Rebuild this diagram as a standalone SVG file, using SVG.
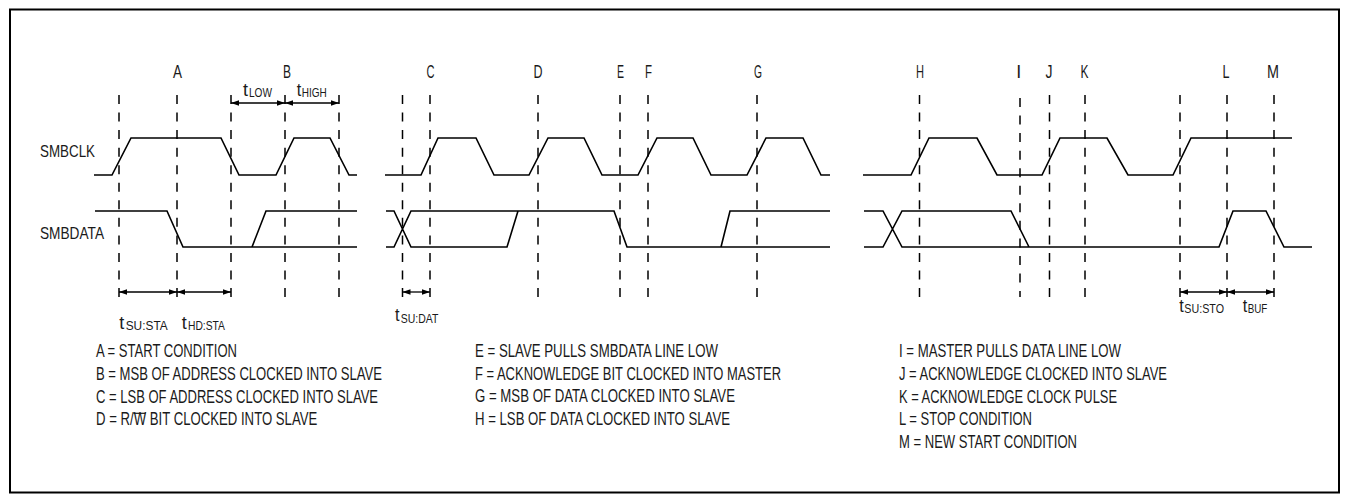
<svg xmlns="http://www.w3.org/2000/svg" width="1349" height="502" viewBox="0 0 1349 502">
<style>
.wave{fill:none;stroke:#000;stroke-width:1.6;stroke-linejoin:miter}
.dash{stroke:#000;stroke-width:1.5;stroke-dasharray:9 8.55;fill:none}
.dim{stroke:#000;stroke-width:1.3;fill:none;marker-start:url(#ah);marker-end:url(#ah)}
text{font-family:"Liberation Sans",Arial,sans-serif;fill:#1a1a1a}
.lbl{font-size:18px;text-anchor:middle}
.sig{font-size:17px}
.leg{font-size:17.5px}
.t{font-size:18px}
.sub{font-size:13px}
</style>
<defs>
<marker id="ah" viewBox="0 0 10 10" refX="10" refY="5" markerWidth="8" markerHeight="6" markerUnits="userSpaceOnUse" orient="auto-start-reverse" preserveAspectRatio="none">
<path d="M0,0.5 L10,5 L0,9.5 z" fill="#000"/>
</marker>
</defs>
<rect x="0" y="0" width="1349" height="502" fill="#fff"/>
<rect x="10" y="9.5" width="1329" height="483" fill="none" stroke="#000" stroke-width="2"/>

<g id="signal-labels">
<text class="sig" x="40" y="157" textLength="55" lengthAdjust="spacingAndGlyphs">SMBCLK</text>
<text class="sig" x="40" y="239" textLength="64" lengthAdjust="spacingAndGlyphs">SMBDATA</text>
</g>

<g id="markers-letters">
<text class="lbl" x="177.5" y="78" textLength="9" lengthAdjust="spacingAndGlyphs">A</text>
<text class="lbl" x="287" y="78" textLength="8" lengthAdjust="spacingAndGlyphs">B</text>
<text class="lbl" x="430.5" y="78" textLength="8" lengthAdjust="spacingAndGlyphs">C</text>
<text class="lbl" x="538" y="78" textLength="9" lengthAdjust="spacingAndGlyphs">D</text>
<text class="lbl" x="620.5" y="78" textLength="7" lengthAdjust="spacingAndGlyphs">E</text>
<text class="lbl" x="648.5" y="78" textLength="7" lengthAdjust="spacingAndGlyphs">F</text>
<text class="lbl" x="758" y="78" textLength="8" lengthAdjust="spacingAndGlyphs">G</text>
<text class="lbl" x="920" y="78" textLength="8" lengthAdjust="spacingAndGlyphs">H</text>
<text class="lbl" x="1018.7" y="78">I</text>
<text class="lbl" x="1049" y="78" textLength="7" lengthAdjust="spacingAndGlyphs">J</text>
<text class="lbl" x="1084.5" y="78" textLength="8" lengthAdjust="spacingAndGlyphs">K</text>
<text class="lbl" x="1226" y="78" textLength="7" lengthAdjust="spacingAndGlyphs">L</text>
<text class="lbl" x="1273" y="78" textLength="12" lengthAdjust="spacingAndGlyphs">M</text>
</g>

<g id="dashed-lines">
<line class="dash" x1="119" y1="95" x2="119" y2="297"/>
<line class="dash" x1="177" y1="95" x2="177" y2="297"/>
<line class="dash" x1="231" y1="95" x2="231" y2="297"/>
<line class="dash" x1="285" y1="95" x2="285" y2="297"/>
<line class="dash" x1="339" y1="95" x2="339" y2="297"/>
<line class="dash" x1="402.5" y1="95" x2="402.5" y2="297"/>
<line class="dash" x1="430" y1="95" x2="430" y2="297"/>
<line class="dash" x1="538" y1="95" x2="538" y2="297"/>
<line class="dash" x1="620" y1="95" x2="620" y2="297"/>
<line class="dash" x1="648" y1="95" x2="648" y2="297"/>
<line class="dash" x1="757" y1="95" x2="757" y2="297"/>
<line class="dash" x1="919.5" y1="95" x2="919.5" y2="297"/>
<line class="dash" x1="1020" y1="98" x2="1020" y2="297"/>
<line class="dash" x1="1049.5" y1="95" x2="1049.5" y2="297"/>
<line class="dash" x1="1085" y1="95" x2="1085" y2="297"/>
<line class="dash" x1="1180" y1="95" x2="1180" y2="297"/>
<line class="dash" x1="1227" y1="95" x2="1227" y2="297"/>
<line class="dash" x1="1274" y1="95" x2="1274" y2="297"/>
</g>

<g id="smbclk">
<path class="wave" d="M94,175 H112 L131,138 H221 L239,175 H276 L294,138 H330 L349,175 H357"/>
<path class="wave" d="M385,175 H421 L438,138 H476 L494,175 H529 L548,138 H584 L602,175 H638 L657,138 H693 L711,175 H747 L766,138 H803 L821,175 H830"/>
<path class="wave" d="M863,175 H911 L929,138 H977 L997,175 H1042 L1060,138 H1107 L1128,175 H1173 L1191,138 H1292"/>
</g>

<g id="smbdata">
<path class="wave" d="M95,211 H167 L183,247 H357 M252,247 L266,211 H357"/>
<path class="wave" d="M386,211 H394 L411,247 H507 L518,211 M386,247 H394 L411,211 H614 L627,247 H830 M721,247 L730,211 H830"/>
<path class="wave" d="M864,211 H883 L902,247 H1219 L1233,211 H1266 L1284,247 H1312 M864,247 H883 L902,211 H1011 L1029,247"/>
</g>

<g id="timing-arrows">
<line class="dim" x1="231" y1="103" x2="285" y2="103"/>
<line class="dim" x1="285" y1="103" x2="339" y2="103"/>
<line class="dim" x1="119" y1="292" x2="177" y2="292"/>
<line class="dim" x1="177" y1="292" x2="231" y2="292"/>
<line class="dim" x1="402.5" y1="292" x2="430" y2="292"/>
<line class="dim" x1="1180" y1="292" x2="1227" y2="292"/>
<line class="dim" x1="1227" y1="292" x2="1274" y2="292"/>
</g>

<g id="timing-labels">
<text class="t" x="243" y="95.5" textLength="5" lengthAdjust="spacingAndGlyphs">t</text>
<text class="sub" x="249" y="96.7" textLength="23" lengthAdjust="spacingAndGlyphs">LOW</text>
<text class="t" x="296.7" y="95.5" textLength="4.5" lengthAdjust="spacingAndGlyphs">t</text>
<text class="sub" x="301.7" y="96.7" textLength="25" lengthAdjust="spacingAndGlyphs">HIGH</text>

<text class="t" x="119.3" y="329" textLength="5" lengthAdjust="spacingAndGlyphs">t</text>
<text class="sub" x="125.7" y="330" textLength="42" lengthAdjust="spacingAndGlyphs">SU:STA</text>
<text class="t" x="181.7" y="329" textLength="5" lengthAdjust="spacingAndGlyphs">t</text>
<text class="sub" x="188" y="330" textLength="37" lengthAdjust="spacingAndGlyphs">HD:STA</text>

<text class="t" x="395" y="321" textLength="4.5" lengthAdjust="spacingAndGlyphs">t</text>
<text class="sub" x="400.7" y="323" textLength="37.6" lengthAdjust="spacingAndGlyphs">SU:DAT</text>

<text class="t" x="1179.3" y="312" textLength="4.5" lengthAdjust="spacingAndGlyphs">t</text>
<text class="sub" x="1184.3" y="313" textLength="39.7" lengthAdjust="spacingAndGlyphs">SU:STO</text>
<text class="t" x="1242.7" y="312" textLength="4.5" lengthAdjust="spacingAndGlyphs">t</text>
<text class="sub" x="1247.7" y="313" textLength="19.6" lengthAdjust="spacingAndGlyphs">BUF</text>
</g>

<g id="legend-1">
<text class="leg" x="96" y="357" textLength="141" lengthAdjust="spacingAndGlyphs">A = START CONDITION</text>
<text class="leg" x="96" y="380" textLength="286" lengthAdjust="spacingAndGlyphs">B = MSB OF ADDRESS CLOCKED INTO SLAVE</text>
<text class="leg" x="96" y="402.5" textLength="282" lengthAdjust="spacingAndGlyphs">C = LSB OF ADDRESS CLOCKED INTO SLAVE</text>
<text class="leg" x="96" y="425" textLength="221.3" lengthAdjust="spacingAndGlyphs">D = R/W BIT CLOCKED INTO SLAVE</text>
<line x1="133.4" y1="413.3" x2="145.5" y2="413.3" stroke="#1a1a1a" stroke-width="1.2"/>
</g>

<g id="legend-2">
<text class="leg" x="475" y="357" textLength="243" lengthAdjust="spacingAndGlyphs">E = SLAVE PULLS SMBDATA LINE LOW</text>
<text class="leg" x="475" y="379.5" textLength="306" lengthAdjust="spacingAndGlyphs">F = ACKNOWLEDGE BIT CLOCKED INTO MASTER</text>
<text class="leg" x="475" y="402" textLength="260" lengthAdjust="spacingAndGlyphs">G = MSB OF DATA CLOCKED INTO SLAVE</text>
<text class="leg" x="475" y="424.5" textLength="255" lengthAdjust="spacingAndGlyphs">H = LSB OF DATA CLOCKED INTO SLAVE</text>
</g>

<g id="legend-3">
<text class="leg" x="899" y="357" textLength="222" lengthAdjust="spacingAndGlyphs">I = MASTER PULLS DATA LINE LOW</text>
<text class="leg" x="899" y="379.5" textLength="268" lengthAdjust="spacingAndGlyphs">J = ACKNOWLEDGE CLOCKED INTO SLAVE</text>
<text class="leg" x="899" y="402.5" textLength="218" lengthAdjust="spacingAndGlyphs">K = ACKNOWLEDGE CLOCK PULSE</text>
<text class="leg" x="899" y="425" textLength="133" lengthAdjust="spacingAndGlyphs">L = STOP CONDITION</text>
<text class="leg" x="899" y="448.3" textLength="178" lengthAdjust="spacingAndGlyphs">M = NEW START CONDITION</text>
</g>
</svg>
